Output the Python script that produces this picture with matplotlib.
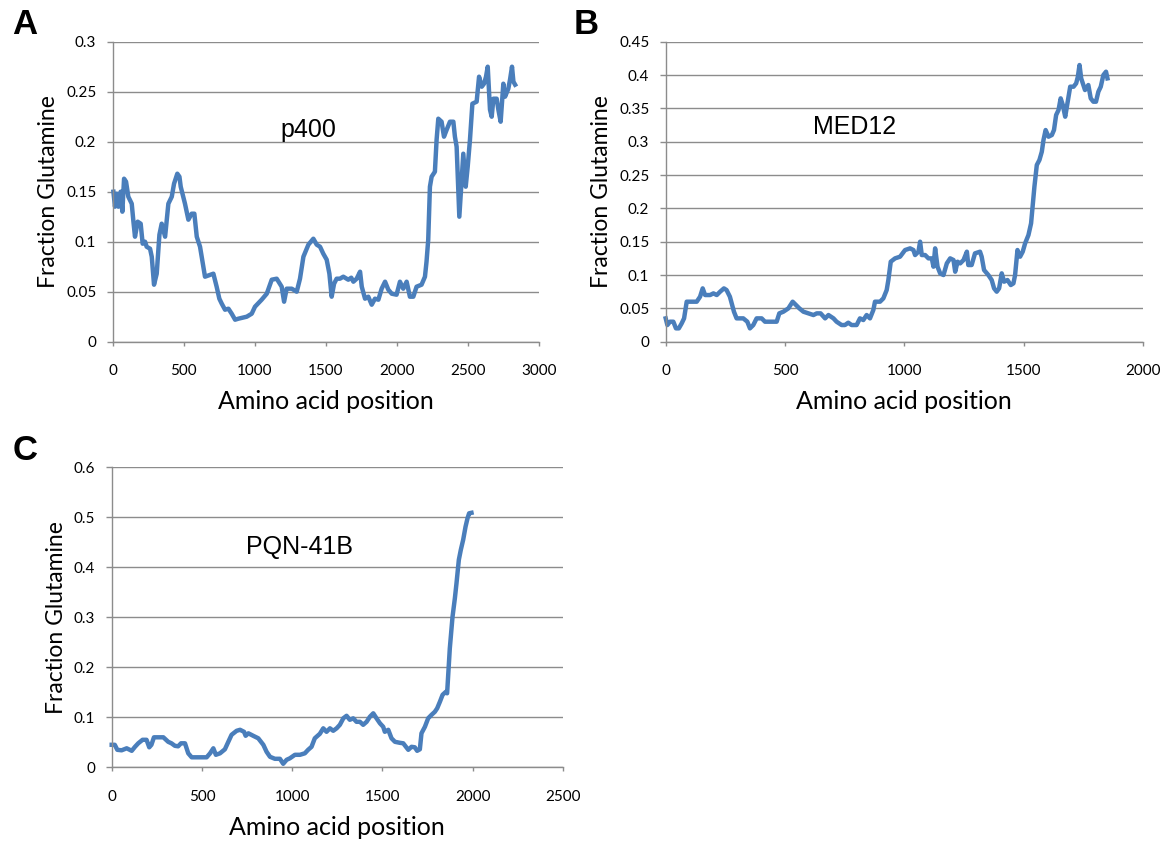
import matplotlib
matplotlib.use("Agg")
import matplotlib.pyplot as plt

# ---------------- data ----------------
p400_x = [5,16,28,40,56,68,80,94,110,134,146,157,176,197,211,228,239,263,275,291,310,329,345,369,392,416,432,455,470,479,
          509,533,556,575,592,615,638,650,709,732,751,768,791,815,838,862,885,944,979,1002,1049,1085,1120,1155,1190,1207,1225,1261,1296,1319,
          1343,1378,1413,1437,1460,1483,1507,1526,1542,1559,1577,1600,1624,1659,1680,1695,1718,1742,1754,1777,1800,1824,1847,1871,1894,1918,1941,1965,1999,2023,
          2046,2070,2093,2117,2140,2175,2199,2210,2222,2234,2246,2269,2281,2293,2316,2333,2352,2375,2399,2410,2422,2441,2457,2469,2486,2500,2516,2533,2563,2580,
          2599,2615,2629,2641,2657,2669,2681,2704,2716,2732,2751,2763,2786,2798,2812,2822,2834]
p400_y = [0.15,0.135,0.148,0.135,0.15,0.13,0.163,0.16,0.145,0.138,0.12,0.105,0.12,0.118,0.098,0.1,0.095,0.093,0.085,0.057,0.068,0.107,0.118,0.105,0.138,0.145,0.158,0.168,0.165,0.155,
          0.138,0.122,0.128,0.128,0.105,0.095,0.075,0.065,0.068,0.055,0.043,0.038,0.032,0.033,0.028,0.022,0.023,0.025,0.028,0.035,0.042,0.048,0.062,0.063,0.055,0.04,0.053,0.053,0.05,0.063,
          0.085,0.097,0.103,0.097,0.095,0.088,0.082,0.068,0.045,0.058,0.063,0.063,0.065,0.062,0.064,0.06,0.063,0.07,0.055,0.043,0.045,0.037,0.043,0.042,0.053,0.06,0.052,0.048,0.047,0.06,
          0.053,0.06,0.045,0.045,0.055,0.057,0.065,0.08,0.102,0.155,0.165,0.17,0.202,0.223,0.22,0.205,0.212,0.22,0.22,0.205,0.195,0.125,0.162,0.188,0.155,0.175,0.202,0.238,0.24,0.265,
          0.255,0.258,0.265,0.275,0.232,0.225,0.243,0.243,0.232,0.22,0.258,0.245,0.253,0.262,0.275,0.26,0.257]

med12_x = [0,7,18,32,43,55,67,77,88,102,130,144,155,165,186,200,214,228,244,255,269,286,297,325,342,353,367,381,402,416,
           430,465,476,493,514,532,546,560,577,598,619,633,649,668,682,703,716,737,751,765,779,800,814,828,842,856,870,877,898,912,
           926,933,943,961,982,1003,1024,1038,1045,1059,1066,1073,1087,1101,1115,1122,1129,1139,1150,1164,1178,1192,1206,1213,1223,1234,1248,1262,1268,1282,
           1296,1317,1324,1334,1352,1366,1376,1387,1397,1408,1418,1432,1446,1457,1464,1474,1485,1496,1506,1520,1531,1538,1545,1555,1566,1576,1583,1592,1604,1618,
           1627,1636,1646,1655,1664,1674,1681,1688,1695,1709,1720,1727,1734,1741,1748,1757,1771,1781,1792,1803,1813,1823,1834,1845,1851]
med12_y = [0.035,0.025,0.03,0.03,0.02,0.02,0.0275,0.035,0.06,0.06,0.06,0.0675,0.08,0.07,0.07,0.0725,0.07,0.075,0.08,0.0775,0.0675,0.045,0.035,0.035,0.03,0.02,0.025,0.035,0.035,0.03,
           0.03,0.03,0.0425,0.045,0.05,0.06,0.055,0.05,0.045,0.0425,0.04,0.0425,0.0425,0.035,0.04,0.035,0.03,0.025,0.025,0.0285,0.025,0.025,0.035,0.0325,0.04,0.035,0.0475,0.06,0.06,0.065,
           0.0775,0.0925,0.12,0.125,0.1275,0.1375,0.14,0.1375,0.13,0.135,0.15,0.13,0.13,0.125,0.125,0.1125,0.14,0.1125,0.1025,0.1,0.1175,0.125,0.1225,0.105,0.12,0.1175,0.1225,0.135,0.115,0.115,
           0.1325,0.135,0.1275,0.1075,0.1,0.0925,0.08,0.075,0.08,0.1025,0.09,0.0925,0.085,0.0875,0.1,0.1375,0.1275,0.135,0.1475,0.16,0.1775,0.205,0.2325,0.265,0.2725,0.285,0.3025,0.3175,0.3075,0.31,
           0.3175,0.34,0.3475,0.365,0.355,0.3375,0.3525,0.3675,0.3825,0.3825,0.3875,0.3975,0.415,0.395,0.3875,0.3775,0.385,0.365,0.36,0.36,0.375,0.3825,0.4,0.405,0.395]

pqn_x = [0,17,31,55,83,111,129,147,171,193,208,220,234,258,286,313,331,350,368,384,406,424,443,480,526,545,563,577,600,627,
         646,664,692,711,733,742,757,784,812,840,858,877,904,932,950,969,987,1015,1043,1070,1088,1107,1125,1153,1172,1190,1209,1227,1246,1264,
         1283,1301,1319,1338,1356,1375,1393,1412,1430,1449,1467,1486,1504,1513,1532,1550,1569,1596,1615,1630,1643,1661,1679,1692,1707,1716,1735,1753,1772,1790,
         1803,1818,1833,1851,1858,1873,1888,1901,1910,1923,1934,1947,1960,1971,1980,1993]
pqn_y = [0.045,0.045,0.035,0.034,0.038,0.033,0.041,0.048,0.055,0.055,0.04,0.045,0.06,0.06,0.06,0.051,0.048,0.043,0.042,0.048,0.048,0.028,0.02,0.02,0.02,0.028,0.038,0.025,0.028,0.036,
         0.051,0.065,0.073,0.075,0.071,0.063,0.068,0.063,0.058,0.045,0.031,0.021,0.017,0.017,0.007,0.015,0.018,0.025,0.025,0.028,0.035,0.041,0.058,0.067,0.078,0.071,0.078,0.073,0.078,0.085,
         0.098,0.103,0.095,0.098,0.091,0.091,0.085,0.091,0.101,0.108,0.098,0.088,0.081,0.071,0.075,0.058,0.051,0.049,0.048,0.041,0.035,0.041,0.04,0.033,0.036,0.068,0.081,0.098,0.105,0.111,
         0.118,0.131,0.145,0.151,0.148,0.238,0.301,0.338,0.368,0.415,0.435,0.455,0.481,0.498,0.508,0.509]

assert len(p400_x) == len(p400_y)
assert len(med12_x) == len(med12_y)
assert len(pqn_x) == len(pqn_y)

a_xticks = [0, 500, 1000, 1500, 2000, 2500, 3000]
a_yticks = [0, 0.05, 0.1, 0.15, 0.2, 0.25, 0.3]
a_ylabels = ["0", "0.05", "0.1", "0.15", "0.2", "0.25", "0.3"]
b_xticks = [0, 500, 1000, 1500, 2000]
b_yticks = [0, 0.05, 0.1, 0.15, 0.2, 0.25, 0.3, 0.35, 0.4, 0.45]
b_ylabels = ["0", "0.05", "0.1", "0.15", "0.2", "0.25", "0.3", "0.35", "0.4", "0.45"]
c_xticks = [0, 500, 1000, 1500, 2000, 2500]
c_yticks = [0, 0.1, 0.2, 0.3, 0.4, 0.5, 0.6]
c_ylabels = ["0", "0.1", "0.2", "0.3", "0.4", "0.5", "0.6"]

# ---------------- style ----------------
W, H = 1168, 842
fig = plt.figure(figsize=(W / 100, H / 100), dpi=100)
LINE = "#4a7ebb"
GRID = "#8c8c8c"
TICKFONT = ["Lato", "DejaVu Sans"]
AXFONT = ["Lato", "DejaVu Sans"]
NAMEFONT = ["Liberation Sans", "DejaVu Sans"]


def make_axes(left, top, right, bottom):
    return fig.add_axes([left / W, 1 - bottom / H, (right - left) / W, (bottom - top) / H])


def style(ax, xticks, yticks, ylabels, name, name_xy):
    ax.set_xlim(xticks[0], xticks[-1])
    ax.set_ylim(yticks[0], yticks[-1])
    ax.set_xticks(xticks)
    ax.set_xticklabels([str(t) for t in xticks], fontfamily=TICKFONT, fontsize=11)
    ax.set_yticks(yticks)
    ax.set_yticklabels(ylabels, fontfamily=TICKFONT, fontsize=11)
    for s in ("top", "right"):
        ax.spines[s].set_visible(False)
    for s in ("left", "bottom"):
        ax.spines[s].set_color(GRID)
        ax.spines[s].set_linewidth(1.0)
    ax.tick_params(axis="x", direction="out", length=3, width=1.0, color=GRID, pad=13)
    ax.tick_params(axis="y", direction="out", length=4.3, width=1.0, color=GRID, pad=7.5)
    ax.yaxis.grid(True, color=GRID, linewidth=1.0)
    ax.set_axisbelow(True)
    ax.set_xlabel("Amino acid position", fontfamily=AXFONT, fontsize=18, labelpad=9)
    ax.set_ylabel("Fraction Glutamine", fontfamily=AXFONT, fontsize=16.5, labelpad=5)
    ax.text(name_xy[0], name_xy[1], name, transform=ax.transAxes, ha="center", va="center",
            fontfamily=NAMEFONT, fontsize=18)


axA = make_axes(112.7, 41.7, 538.7, 341.7)
axA.plot(p400_x, p400_y, color=LINE, linewidth=3.2, solid_joinstyle="round", clip_on=False)
style(axA, a_xticks, a_yticks, a_ylabels, "p400", ((308 - 112.7) / 426, (341.7 - 130) / 300))

axB = make_axes(665.7, 41.7, 1143, 341.7)
axB.plot(med12_x, med12_y, color=LINE, linewidth=3.2, solid_joinstyle="round", clip_on=False)
style(axB, b_xticks, b_yticks, b_ylabels, "MED12", ((855 - 665.7) / 477.3, (341.7 - 127) / 300))

axC = make_axes(111.7, 467.3, 563, 767.3)
axC.plot(pqn_x, pqn_y, color=LINE, linewidth=3.2, solid_joinstyle="round", clip_on=False)
style(axC, c_xticks, c_yticks, c_ylabels, "PQN-41B", ((300 - 111.7) / 451.3, (767.3 - 547) / 300))

for letter, (px, py) in {"A": (25, 24), "B": (586, 24), "C": (25, 450)}.items():
    fig.text(px / W, 1 - py / H, letter, ha="center", va="center", fontsize=25,
             fontweight="bold", fontfamily=NAMEFONT)

fig.savefig("out.png", dpi=100)
